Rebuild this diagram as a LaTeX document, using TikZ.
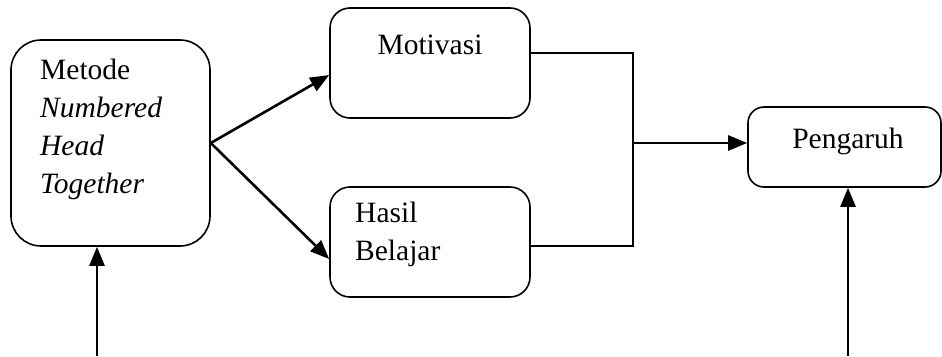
\documentclass[tikz,border=0pt]{standalone}
\usepackage{fontspec}
\setmainfont{Liberation Serif}
\usetikzlibrary{arrows.meta,calc}
\tikzset{
  box/.style={draw=black, line width=1.6pt, rectangle, inner sep=0pt},
  txt/.style={font=\fontsize{29.5}{38}\selectfont, inner sep=0pt, align=left},
  arr/.style={line width=2.6pt, -{Triangle[length=19pt,width=15pt]}},
  elbow/.style={line width=2.2pt}
}
\begin{document}
\begin{tikzpicture}[x=1pt,y=-1pt]
\useasboundingbox (0,0) rectangle (942,356);
% boxes
\node[box, rounded corners=30pt, minimum width=199pt, minimum height=206pt] (L) at (110.5,143) {};
\node[box, rounded corners=20pt, minimum width=200pt, minimum height=110pt] (M) at (430,63) {};
\node[box, rounded corners=20pt, minimum width=200pt, minimum height=110pt] (H) at (430,242) {};
\node[box, rounded corners=16pt, minimum width=193pt, minimum height=80pt] (P) at (844.5,147) {};
% texts
\node[txt, anchor=north west] (Lt) at (40,59) {Metode\\\textit{Numbered}\\\textit{Head}\\\textit{Together}};
\node[txt] (Mt) at (430,45) {Motivasi};
\node[txt, anchor=north west] (Ht) at (355,202) {Hasil\\Belajar};
\node[txt] (Pt) at (848,141) {Pengaruh};
% connectors
\draw[arr] (L.east) -- ([yshift=-12pt]M.west);
\draw[arr] (L.east) -- ([yshift=-17pt]H.west);
\coordinate (J) at (633,143);
\draw[elbow] ([yshift=10pt]M.east) -| (J) |- ([yshift=-4pt]H.east);
\draw[arr] (J) -- ([yshift=4pt]P.west);
\coordinate (B1) at (97,356);
\coordinate (B2) at (848,356);
\draw[arr] (B1) -- (B1 |- L.south);
\draw[arr] (B2) -- (B2 |- P.south);
\end{tikzpicture}
\end{document}
